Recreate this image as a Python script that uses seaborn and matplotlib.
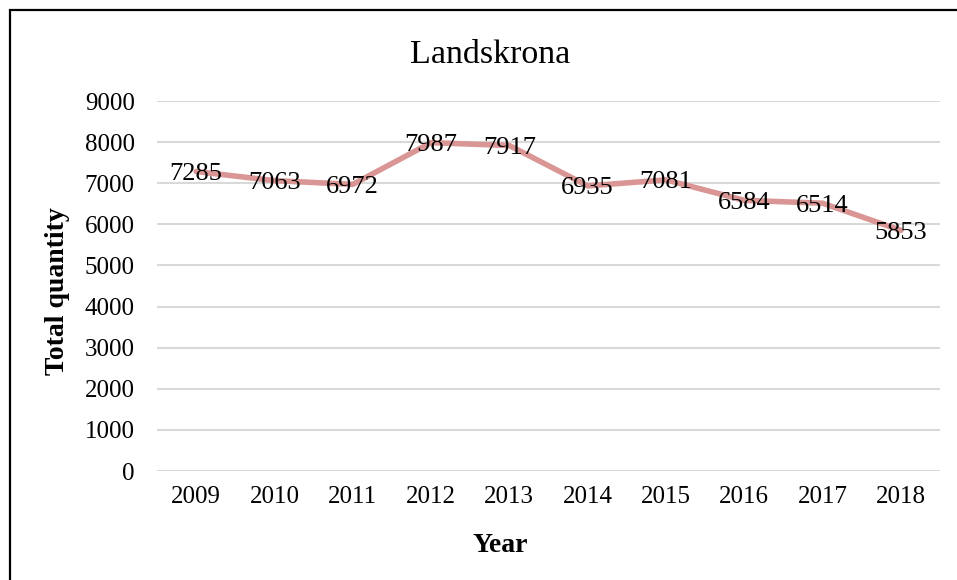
import matplotlib
matplotlib.use("Agg")
import matplotlib.pyplot as plt
import seaborn as sns
import pandas as pd
from matplotlib.patches import Rectangle

# Data
years = ["2009", "2010", "2011", "2012", "2013", "2014", "2015", "2016", "2017", "2018"]
quantity = [7285, 7063, 6972, 7987, 7917, 6935, 7081, 6584, 6514, 5853]

df = pd.DataFrame({"Year": years, "Total quantity": quantity})

sns.set_theme(style="whitegrid")
plt.rcParams["font.family"] = ["Liberation Serif", "DejaVu Serif"]

fig = plt.figure(figsize=(9.57, 5.8), dpi=100)
ax = fig.add_axes([157 / 957, 1 - 471 / 580, (940 - 157) / 957, (471 - 101) / 580])

sns.lineplot(data=df, x="Year", y="Total quantity", sort=False,
             color="#D99694", linewidth=4, ax=ax)

# data labels centered on the points
for i, v in enumerate(quantity):
    ax.text(i, v, str(v), ha="center", va="center_baseline", fontsize=19, color="black")

ax.set_ylim(0, 9000)
ax.set_yticks(range(0, 9001, 1000))
ax.set_xlim(-0.5, len(years) - 0.5)
ax.grid(axis="y", color="#D9D9D9", linewidth=1.5)
ax.grid(axis="x", visible=False)
for s in ax.spines.values():
    s.set_visible(False)
ax.tick_params(axis="both", length=0, labelsize=18, colors="black")
ax.tick_params(axis="y", pad=16)
ax.tick_params(axis="x", pad=11)

ax.set_xlabel("")
ax.set_ylabel("")
fig.text(490 / 957, 1 - 55 / 580, "Landskrona", ha="center", va="center",
         fontsize=24.5, color="black")
fig.text(57 / 957, 1 - 291 / 580, "Total quantity", rotation=90, ha="center",
         va="center", fontsize=20, fontweight="bold", color="black")
fig.text(500 / 957, 1 - 545 / 580, "Year", ha="center", va="center",
         fontsize=20, fontweight="bold", color="black")

# outer frame (cut off at right and bottom like the reference)
fig.patches.append(Rectangle((9.5 / 957, -0.1), 1.2, 1.1 - 10.5 / 580,
                             transform=fig.transFigure, fill=False,
                             edgecolor="black", linewidth=1.6))

fig.savefig("out.png", dpi=100)
